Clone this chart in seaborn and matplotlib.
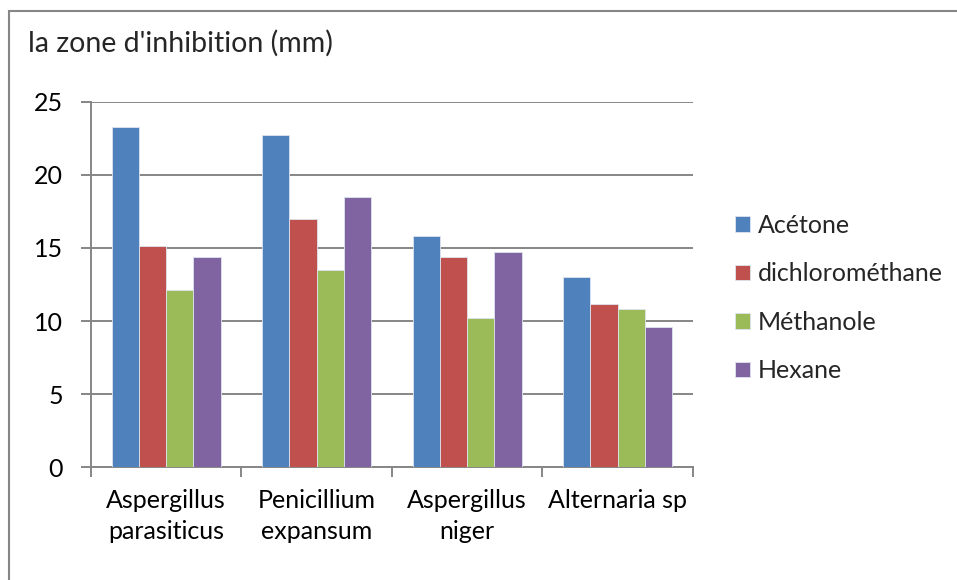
import pandas as pd
import seaborn as sns
import matplotlib.pyplot as plt
from matplotlib.patches import Rectangle
from matplotlib.ticker import FixedLocator

# data
fungi = ["Aspergillus\nparasiticus", "Penicillium\nexpansum", "Aspergillus\nniger", "Alternaria sp"]
solvents = ["Acétone", "dichlorométhane", "Méthanole", "Hexane"]
acetone = [23.3, 22.7, 15.8, 13.0]
dichloromethane = [15.1, 17.0, 14.4, 11.2]
methanole = [12.1, 13.5, 10.2, 10.8]
hexane = [14.4, 18.5, 14.7, 9.6]
colors = ["#4F81BD", "#C0504D", "#9BBB59", "#8064A2"]

# long format for seaborn
rows = []
for s, vals in zip(solvents, [acetone, dichloromethane, methanole, hexane]):
    for f, v in zip(fungi, vals):
        rows.append([f, s, v])
df = pd.DataFrame(rows, columns=["Fungus", "Solvent", "Zone"])

sns.set_style("white")
plt.rcParams['font.family'] = ['Lato', 'DejaVu Sans']

fig = plt.figure(figsize=(9.57, 5.8), dpi=100)
ax = fig.add_axes([0.0951, 0.1943, 0.6289, 0.6304])

sns.barplot(data=df, x="Fungus", y="Zone", hue="Solvent", palette=colors,
            width=0.724, saturation=1, edgecolor="#dde4ee", linewidth=0.6,
            ax=ax, zorder=3)

ax.set_ylim(0, 25)
ax.set_xlim(-0.5, 3.5)
ax.set_yticks([0, 5, 10, 15, 20, 25])
ax.yaxis.grid(True, color="#868686", linewidth=1.4, zorder=0)
ax.set_axisbelow(True)
ax.set_xlabel("")
ax.set_ylabel("")

for side in ["top", "right"]:
    ax.spines[side].set_visible(False)
for side in ["left", "bottom"]:
    ax.spines[side].set_color("#868686")
    ax.spines[side].set_linewidth(1.4)

ax.tick_params(axis="y", left=True, length=7, width=1.4, color="#868686",
               labelsize=18, pad=13, labelcolor="black")
ax.tick_params(axis="x", which="major", bottom=False, labelsize=18, pad=12,
               labelcolor="black")
for lab in ax.get_xticklabels():
    lab.set_linespacing(1.45)
ax.xaxis.set_minor_locator(FixedLocator([-0.5, 0.5, 1.5, 2.5, 3.5]))
ax.tick_params(axis="x", which="minor", bottom=True, length=7, width=1.4,
               color="#868686")

leg = ax.legend(loc="center left", bbox_to_anchor=(735 / 957, 0.486),
                bbox_transform=fig.transFigure, frameon=False, fontsize=18,
                handlelength=0.6, handleheight=0.6, handletextpad=0.3,
                labelspacing=1.02, borderpad=0, borderaxespad=0)

fig.text(28 / 957, 1 - 43 / 580, "la zone d'inhibition (mm)", fontsize=20.5,
         va="center", ha="left")

# outer chart border (only top and left edges are visible in the reference)
fig.patches.append(Rectangle((9 / 957, -0.05), 1.1, 1 - 11 / 580 + 0.05,
                             transform=fig.transFigure, fill=False,
                             edgecolor="#868686", linewidth=1.5))

fig.savefig("out.png", dpi=100)
